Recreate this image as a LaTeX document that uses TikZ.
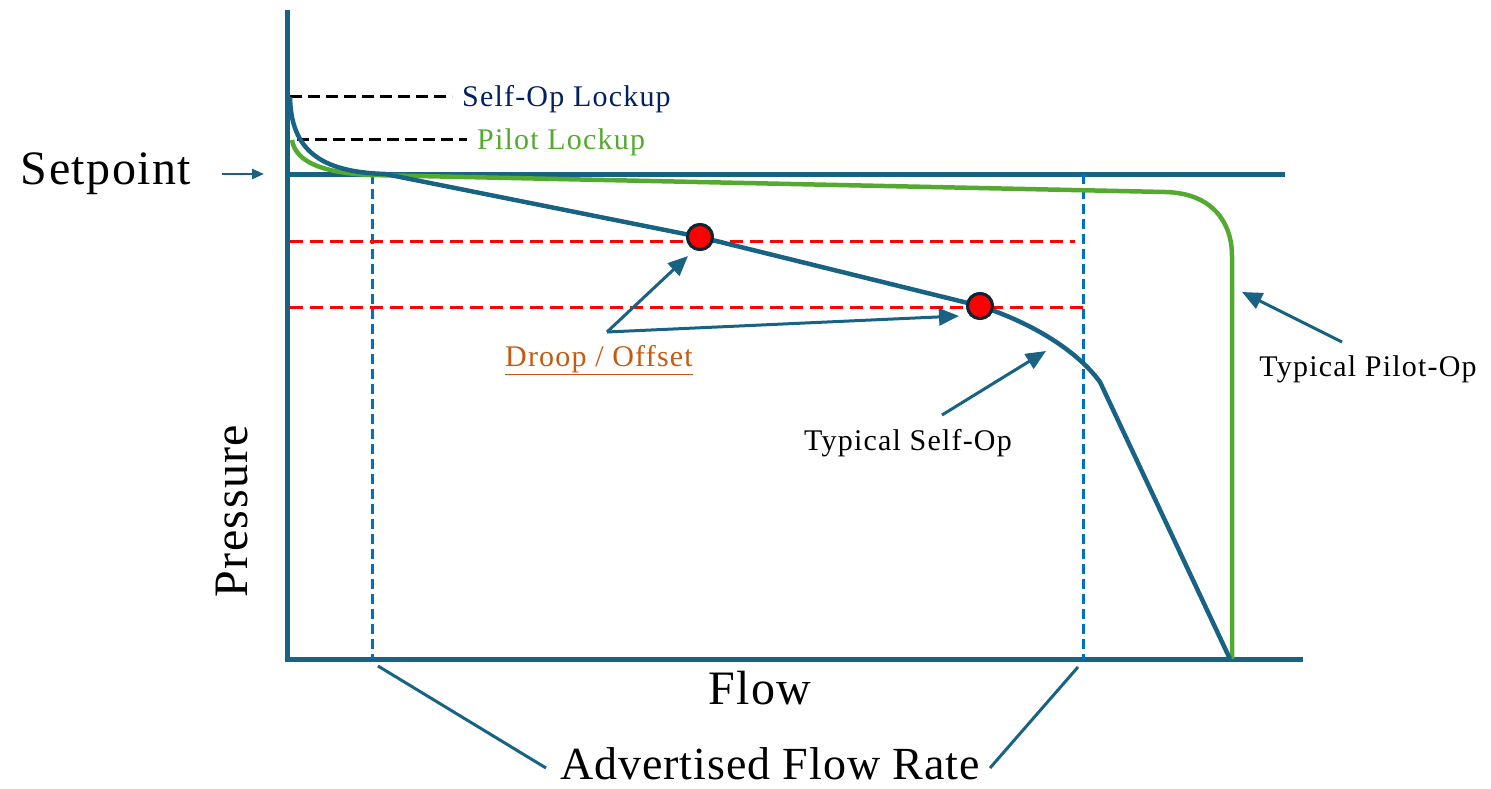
\documentclass[tikz,border=0pt]{standalone}
\usepackage{fontspec}
\setmainfont{Liberation Serif}
\usepackage{xcolor}
\usetikzlibrary{arrows.meta,positioning}

\definecolor{axisblue}{RGB}{24,98,132}
\definecolor{pilotgreen}{RGB}{84,170,48}
\definecolor{rateblue}{RGB}{0,112,192}
\definecolor{lockupnavy}{RGB}{0,32,96}
\definecolor{drooporange}{RGB}{197,90,17}
\definecolor{dotrim}{RGB}{16,36,52}

\begin{document}
\begin{tikzpicture}[x=1pt, y=-1pt,
  axis/.style={draw=axisblue, line width=5pt},
  selfop/.style={draw=axisblue, line width=4.5pt},
  pilotop/.style={draw=pilotgreen, line width=4.5pt},
  lockline/.style={draw=black, line width=3pt, dash pattern=on 12pt off 6pt},
  droopline/.style={draw=red, line width=3pt, dash pattern=on 13pt off 7pt},
  rateline/.style={draw=rateblue, line width=3pt, dash pattern=on 10pt off 5pt},
  pointer/.style={-{Triangle[length=20pt,width=17pt]}, draw=axisblue, fill=axisblue, line width=3pt},
  leader/.style={draw=axisblue, line width=3pt},
  biglabel/.style={font=\fontsize{48}{52}\selectfont\addfontfeatures{LetterSpace=3}, inner sep=0pt},
  smalllabel/.style={font=\fontsize{30}{34}\selectfont\addfontfeatures{LetterSpace=4}, inner sep=0pt},
  opdot/.style={circle, fill=red, draw=dotrim, line width=3pt, minimum size=25pt, inner sep=0pt}
]
\useasboundingbox (0,0) rectangle (1491,789);

% Axes and setpoint level
\coordinate (origin) at (287,659);
\coordinate (ytop) at (287,10);
\coordinate (xend) at (1303,659);
\coordinate (spleft) at (287,174);
\coordinate (spright) at (1285,174);
\draw[axis] (ytop) -- (287,662);
\draw[axis] (origin) -- (xend);
\draw[axis] (spleft) -- (spright);

% Labels on the axes
\node[biglabel] (setpt) at (106,174) {Setpoint};
\coordinate (setpttip) at (264,174);
\draw[-{Triangle[length=12pt,width=10pt]}, draw=axisblue, line width=2.5pt] (222,174) -- (setpttip);
\node[biglabel, rotate=90] (pressure) at (232,511) {Pressure};
\node[biglabel] (flow) at (760,688) {Flow};

% Lockup levels
\coordinate (soplock) at (290,97);
\coordinate (plock) at (292,140);
\draw[lockline] (soplock) -- (452,97);
\draw[lockline] (297,140) -- (467,140);
\node[smalllabel, text=lockupnavy, anchor=west] (soplocktxt) at (462,99) {Self-Op Lockup};
\node[smalllabel, text=pilotgreen, anchor=west] (plocktxt) at (477,142) {Pilot Lockup};

% Advertised flow rate
\coordinate (rateA) at (372,174);
\coordinate (rateB) at (1083,174);
\draw[rateline] (rateA) -- (372,659);
\draw[rateline] (rateB) -- (1083,659);

% Droop levels
\draw[droopline] (290,241) -- (1075,241);
\draw[droopline] (290,307) -- (1087,307);

% Pilot-operated curve
\draw[pilotop] (plock) .. controls (296,165) and (330,173) .. (370,175)
  -- (1165,192) .. controls (1212,193) and (1232,222) .. (1232,256)
  -- (1232,659);

% Self-operated curve
\node[opdot] (dropA) at (700,237) {};
\node[opdot] (dropB) at (980,306) {};
\draw[selfop] (soplock) .. controls (291,150) and (320,172) .. (385,174)
  -- (dropA.center) -- (dropB.center)
  .. controls (1035,324) and (1078,352) .. (1100,382)
  -- (1230,659);
\node[opdot] at (dropA) {};
\node[opdot] at (dropB) {};

% Droop / Offset callout
\node[smalllabel, text=drooporange] (droop) at (599,360) {\underline{Droop / Offset}};
\coordinate (droopfork) at (607,332);
\draw[pointer] (droopfork) -- (688,256);
\draw[pointer] (droopfork) -- (959,316);

% Typical Self-Op callout
\node[smalllabel] (selftxt) at (908,443) {Typical Self-Op};
\coordinate (selftail) at (942,415);
\draw[pointer] (selftail) -- (1046,351);

% Typical Pilot-Op callout
\node[smalllabel] (pilottxt) at (1368,369) {Typical Pilot-Op};
\coordinate (pilottail) at (1342,342);
\draw[pointer] (pilottail) -- (1242,292);

% Advertised Flow Rate callout
\node[biglabel, font=\fontsize{46}{50}\selectfont\addfontfeatures{LetterSpace=2}] (rate) at (770,764) {Advertised Flow Rate};
\coordinate (rateAfoot) at (378,666);
\coordinate (rateBfoot) at (1078,667);
\draw[leader] (rateAfoot) -- (546,768);
\draw[leader] (rateBfoot) -- (990,768);
\end{tikzpicture}
\end{document}
